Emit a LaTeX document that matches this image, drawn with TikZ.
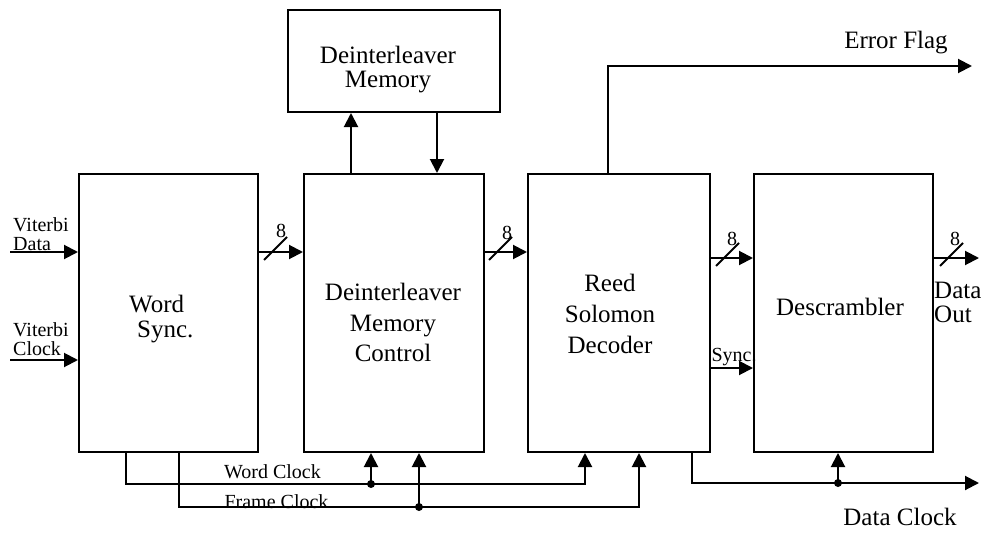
\documentclass[tikz,border=0pt]{standalone}
\usepackage{fontspec}
\setmainfont{Liberation Serif}
\usetikzlibrary{arrows.meta}
\begin{document}
\begin{tikzpicture}[x=1pt,y=-1pt,
  box/.style={draw, line width=2pt, inner sep=0pt},
  wire/.style={line width=2pt},
  arr/.style={wire, -{Triangle[length=14pt,width=14pt]}},
  big/.style={font=\fontsize{25}{30.5}\selectfont, inner sep=0pt},
  small/.style={font=\fontsize{20}{19}\selectfont, inner sep=0pt},
  num/.style={font=\fontsize{20}{20}\selectfont, inner sep=0pt},
  dot/.style={circle, fill, inner sep=0pt, minimum size=8pt}]
\useasboundingbox[fill=white] (0,0) rectangle (991,535);
% boxes
\node[box, minimum width=179pt, minimum height=278pt] (ws)   at (168.5,313) {};
\node[box, minimum width=180pt, minimum height=278pt] (dmc)  at (394,313) {};
\node[box, minimum width=182pt, minimum height=278pt] (rs)   at (619,313) {};
\node[box, minimum width=179pt, minimum height=278pt] (desc) at (843.5,313) {};
\node[box, minimum width=212pt, minimum height=102pt] (dm)   at (394,61) {};
% box texts
\node[big, font=\fontsize{25}{25}\selectfont, align=left, anchor=west] (wst) at (129,319.5) {Word\\\hspace*{8pt}Sync.};
\node[big, align=center] (dmct) at (393,322.5) {Deinterleaver\\Memory\\Control};
\node[big, font=\fontsize{25}{31}\selectfont, align=center] (rst) at (610,314) {Reed\\Solomon\\Decoder};
\node[big] (desct) at (840,307) {Descrambler};
\node[big, font=\fontsize{25}{24}\selectfont, align=center] (dmt) at (388,70) {Deinterleaver\\Memory};
% inputs
\coordinate (vdin) at (10,252);
\coordinate (vcin) at (10,360);
\draw[arr] (vdin) -- (vdin -| ws.west);
\draw[arr] (vcin) -- (vcin -| ws.west);
\node[small, align=left, anchor=west] (vdl) at (13,234) {Viterbi\\Data};
\node[small, align=left, anchor=west] (vcl) at (13,339.5) {Viterbi\\Clock};
% data buses
\coordinate (b1) at (272,252);
\coordinate (b2) at (497,252);
\coordinate (b3) at (724,258);
\coordinate (b4) at (948,258);
\coordinate (dout) at (979,258);
\draw[arr] (b1 -| ws.east) -- (b1 -| dmc.west);
\draw[arr] (b2 -| dmc.east) -- (b2 -| rs.west);
\draw[arr] (b3 -| rs.east) -- (b3 -| desc.west);
\draw[arr] (b4 -| desc.east) -- (dout);
\foreach \b in {b1,b2,b3,b4}
  \draw[wire] ([shift={(-8,8)}]\b) -- ([shift={(15,-15)}]\b);
\node[num] (n1) at (281,231) {8};
\node[num] (n2) at (507,233) {8};
\node[num] (n3) at (732,239) {8};
\node[num] (n4) at (955,239) {8};
% sync
\coordinate (sy) at (710,368);
\draw[arr] (sy -| rs.east) -- (sy -| desc.west);
\node[small, font=\fontsize{20}{20}\selectfont] (syl) at (734,357) {Sync.};
% data out label
\node[big, font=\fontsize{25}{24}\selectfont, align=left, anchor=west] (doutl) at (934,302) {Data\\Out};
% memory arrows
\coordinate (mu) at (351,0);
\coordinate (md) at (437,0);
\draw[arr] (dmc.north -| mu) -- (dm.south -| mu);
\draw[arr] (dm.south -| md) -- (dmc.north -| md);
% error flag
\coordinate (ef) at (608,66);
\coordinate (efend) at (972,66);
\draw[arr] (rs.north -| ef) -- (ef) -- (efend);
\node[big] (efl) at (896,43) {Error Flag};
% word clock
\coordinate (wc1) at (126,484);
\coordinate (wc2) at (585,484);
\coordinate (wcd) at (371,484);
\draw[arr] (ws.south -| wc1) -- (wc1) -- (wc2) -- (rs.south -| wc2);
\node[dot] (wcdot) at (wcd) {};
\draw[arr] (wcdot.center) -- (dmc.south -| wcd);
\node[small, font=\fontsize{20}{20}\selectfont] (wcl) at (272.5,472) {Word Clock};
% frame clock
\coordinate (fc1) at (179,507);
\coordinate (fc2) at (639,507);
\coordinate (fcd) at (419,507);
\draw[arr] (ws.south -| fc1) -- (fc1) -- (fc2) -- (rs.south -| fc2);
\node[dot] (fcdot) at (fcd) {};
\draw[arr] (fcdot.center) -- (dmc.south -| fcd);
\node[small, font=\fontsize{20}{20}\selectfont] (fcl) at (276.5,502) {Frame Clock};
% data clock
\coordinate (dc1) at (692,483);
\coordinate (dc2) at (979,483);
\coordinate (dcd) at (838,483);
\draw[arr] (rs.south -| dc1) -- (dc1) -- (dc2);
\node[dot] (dcdot) at (dcd) {};
\draw[arr] (dcdot.center) -- (desc.south -| dcd);
\node[big] (dcl) at (900,517) {Data Clock};
\end{tikzpicture}
\end{document}
